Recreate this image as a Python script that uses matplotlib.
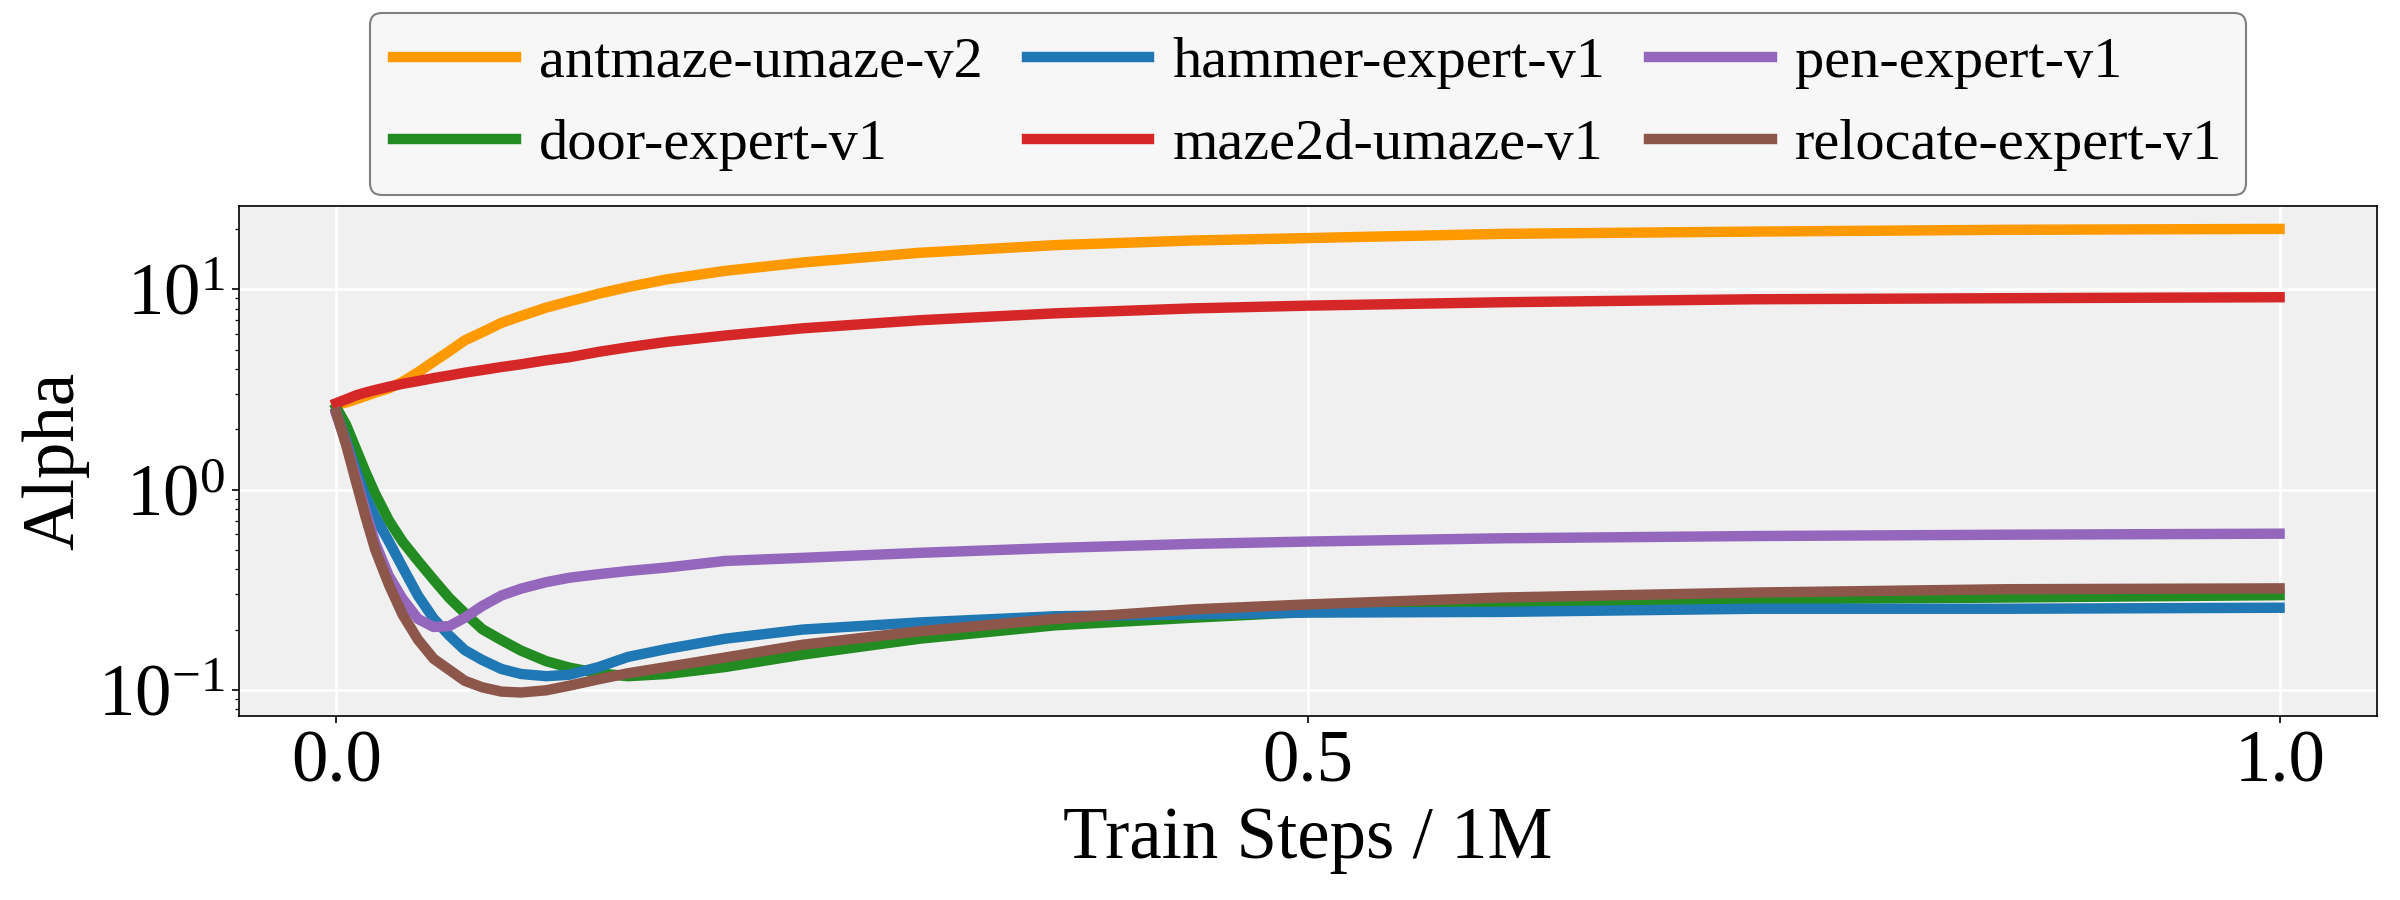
import matplotlib
matplotlib.use("Agg")
import matplotlib.pyplot as plt

# ---------------- data ----------------
steps = [0, 0.005, 0.01, 0.015, 0.02, 0.027, 0.034, 0.042, 0.05, 0.058, 0.066, 0.075, 0.085,
         0.095, 0.108, 0.12, 0.135, 0.15, 0.17, 0.2, 0.24, 0.3, 0.37, 0.44, 0.5, 0.6, 0.73,
         0.86, 1.0]

antmaze  = [2.66, 2.72, 2.82, 2.93, 3.05, 3.2, 3.45, 3.85, 4.35, 4.9, 5.55, 6.1, 6.8,
            7.35, 8.1, 8.7, 9.5, 10.25, 11.2, 12.35, 13.6, 15.2, 16.6, 17.5, 18.0, 18.9, 19.4,
            19.8, 20.0]
door     = [2.56, 2.1, 1.6, 1.22, 0.95, 0.70, 0.55, 0.44, 0.355, 0.288, 0.242, 0.201, 0.177,
            0.157, 0.139, 0.129, 0.121, 0.117, 0.12, 0.13, 0.15, 0.18, 0.21, 0.229, 0.245, 0.267, 0.283,
            0.289, 0.297]
hammer   = [2.42, 1.75, 1.25, 0.92, 0.73, 0.55, 0.41, 0.295, 0.227, 0.187, 0.158, 0.141, 0.127,
            0.12, 0.117, 0.119, 0.13, 0.146, 0.16, 0.18, 0.2, 0.217, 0.233, 0.238, 0.243, 0.245, 0.254,
            0.254, 0.257]
maze2d   = [2.70, 2.82, 2.95, 3.05, 3.14, 3.26, 3.37, 3.48, 3.6, 3.71, 3.83, 3.95, 4.09,
            4.22, 4.42, 4.58, 4.87, 5.13, 5.46, 5.87, 6.38, 7.0, 7.58, 8.02, 8.28, 8.61, 8.91,
            9.02, 9.12]
pen      = [2.36, 1.7, 1.15, 0.78, 0.54, 0.37, 0.285, 0.226, 0.206, 0.208, 0.229, 0.262, 0.296,
            0.32, 0.345, 0.363, 0.378, 0.392, 0.408, 0.44, 0.456, 0.483, 0.511, 0.535, 0.55, 0.571, 0.586,
            0.595, 0.602]
relocate = [2.42, 1.67, 1.1, 0.73, 0.5, 0.335, 0.238, 0.178, 0.143, 0.126, 0.111, 0.103, 0.098,
            0.097, 0.0995, 0.105, 0.113, 0.121, 0.13, 0.145, 0.168, 0.196, 0.226, 0.252, 0.267, 0.289, 0.306,
            0.318, 0.321]

names  = ["antmaze-umaze-v2", "door-expert-v1", "hammer-expert-v1",
          "maze2d-umaze-v1", "pen-expert-v1", "relocate-expert-v1"]
series = [antmaze, door, hammer, maze2d, pen, relocate]
colors = ["#ff9900", "#228b22", "#1f77b4", "#d62728", "#9467bd", "#8c564b"]

# ---------------- plot ----------------
SERIF = ["Liberation Serif", "DejaVu Serif"]
plt.rcParams["font.family"] = SERIF
plt.rcParams["mathtext.fontset"] = "custom"
plt.rcParams["mathtext.rm"] = "Liberation Serif"

fig = plt.figure(figsize=(16, 6), dpi=150)
ax = fig.add_axes([0.0997, 0.2048, 0.8906, 0.5666])
ax.set_facecolor("#f0f0f0")
for name, ys, c in zip(names, series, colors):
    ax.plot(steps, ys, color=c, lw=5, label=name)

ax.set_yscale("log")
ax.set_xticks([0.0, 0.5, 1.0])
ax.grid(True, which="major", color="white", lw=1.2)
ax.set_axisbelow(True)
ax.tick_params(labelsize=35)
ax.set_xlabel("Train Steps / 1M", fontsize=35)
ax.set_ylabel("Alpha", fontsize=35)

leg = ax.legend(ncol=3, loc="lower center", bbox_to_anchor=(0.5, 1.022), borderaxespad=0,
                prop={"family": SERIF, "size": 28},
                frameon=True, fancybox=True, edgecolor="gray", facecolor="#f7f7f7",
                framealpha=1.0, handlelength=2.1, handletextpad=0.4, columnspacing=0.75,
                labelspacing=0.5)

fig.savefig("out.png", dpi=150)
